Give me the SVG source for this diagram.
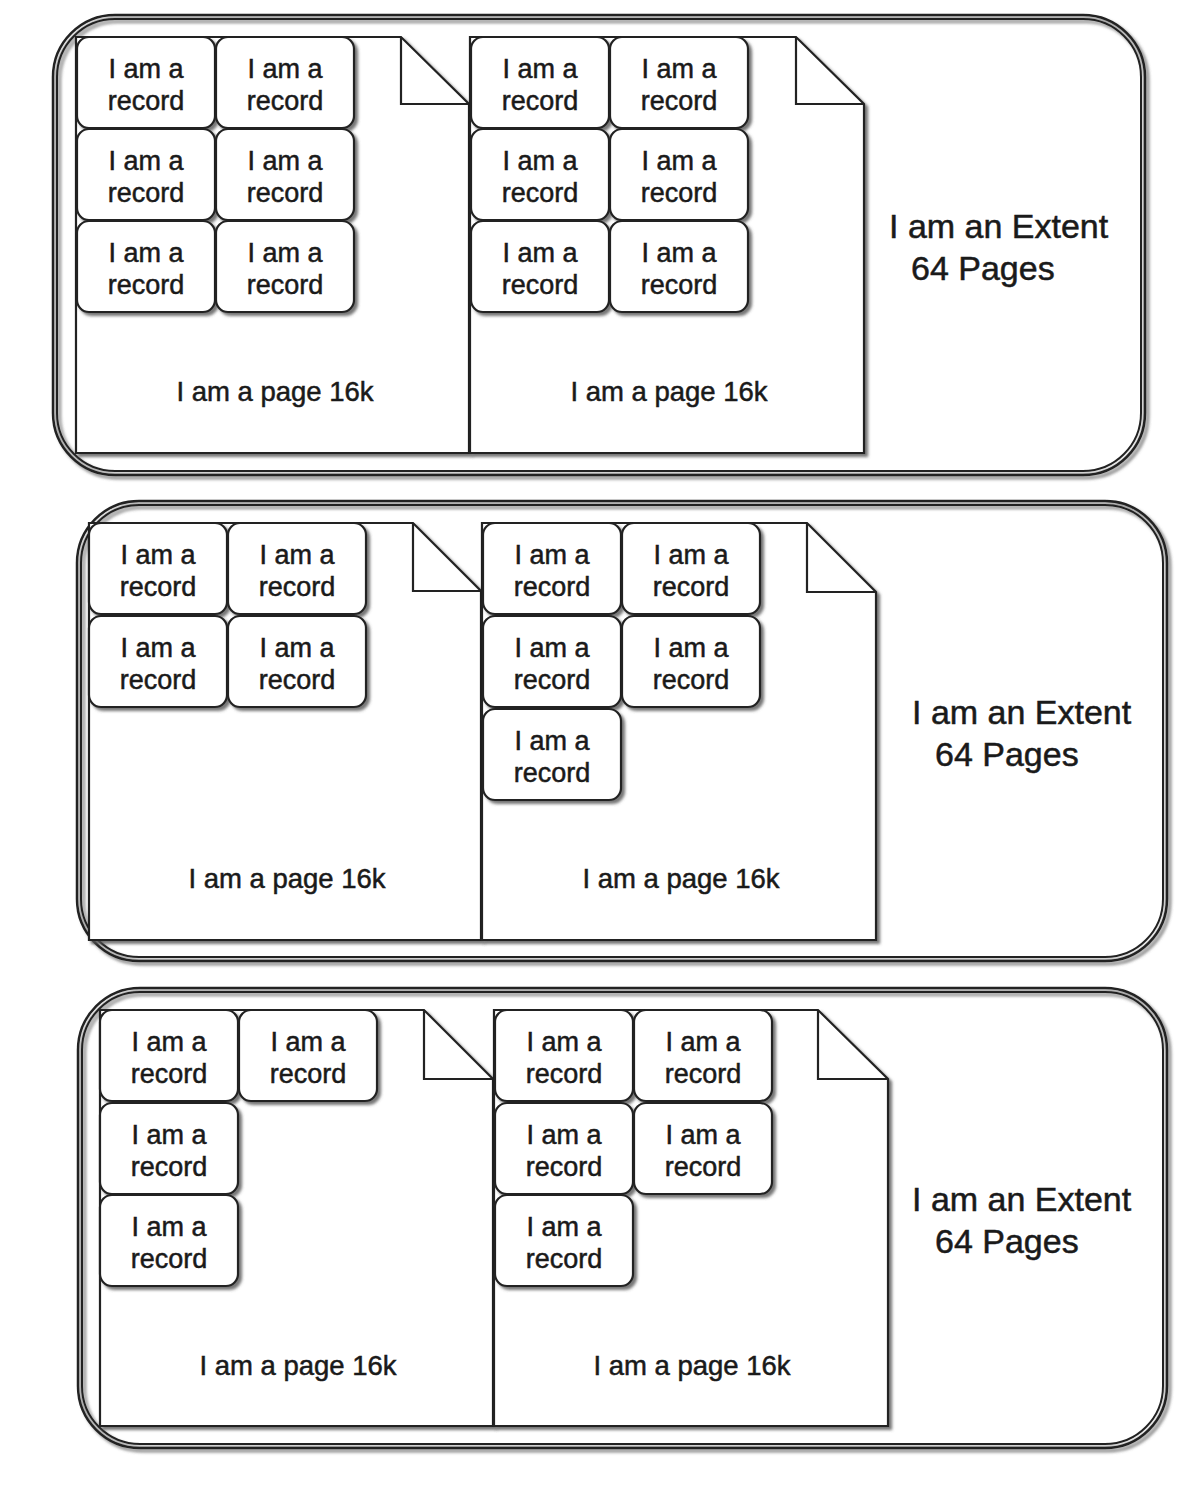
<svg xmlns="http://www.w3.org/2000/svg" width="1192" height="1492" viewBox="0 0 1192 1492">
<defs>
<filter id="sh" x="-5%" y="-5%" width="115%" height="115%">
<feDropShadow dx="3" dy="3" stdDeviation="1.5" flood-color="#555" flood-opacity="0.8"/>
</filter>
<symbol id="rec" overflow="visible">
<rect x="0" y="0" width="138" height="91" rx="12" ry="12" class="r"/>
<text x="69" y="41" class="t">I am a</text>
<text x="69" y="73" class="t">record</text>
</symbol>
</defs>
<style>
.ext1{fill:none;stroke:#222;stroke-width:2.5}
.ext2{fill:none;stroke:#222;stroke-width:2}
.pg{fill:#fff;stroke:#222;stroke-width:2.2;filter:url(#sh)}
.fold{fill:none;stroke:#222;stroke-width:2.2}
.r{fill:#fff;stroke:#222;stroke-width:2.2;filter:url(#sh)}
.t{font-family:"Liberation Sans",Arial,sans-serif;font-size:27px;fill:#1a1a1a;stroke:#1a1a1a;stroke-width:0.5;text-anchor:middle}
.pt{font-family:"Liberation Sans",Arial,sans-serif;font-size:27.5px;fill:#1a1a1a;stroke:#1a1a1a;stroke-width:0.5;text-anchor:middle}
.et{font-family:"Liberation Sans",Arial,sans-serif;font-size:34px;fill:#1a1a1a;stroke:#1a1a1a;stroke-width:0.5}
</style>
<rect width="1192" height="1492" fill="#fff"/>

<!-- Extent 1 -->
<g id="extent1">
<g filter="url(#sh)">
<rect x="53" y="15" width="1092" height="460" rx="62" ry="62" class="ext1"/>
<rect x="57" y="19" width="1084" height="452" rx="58" ry="58" class="ext2"/>
</g>
<text x="889" y="238" class="et">I am an Extent</text>
<text x="911" y="280" class="et">64 Pages</text>
</g>
<g id="e1page1">
<path class="pg" d="M76,37 L401,37 L469,104 L469,453 L76,453 Z"/>
<path class="fold" d="M401,37 L401,104 L469,104"/>
<text x="275" y="401" class="pt">I am a page 16k</text>
</g>
<g id="e1page2">
<path class="pg" d="M470,37 L796,37 L864,104 L864,453 L470,453 Z"/>
<path class="fold" d="M796,37 L796,104 L864,104"/>
<text x="669" y="401" class="pt">I am a page 16k</text>
</g>
<g id="e1p1r1"><use href="#rec" x="77" y="37"/></g>
<g id="e1p1r2"><use href="#rec" x="216" y="37"/></g>
<g id="e1p1r3"><use href="#rec" x="77" y="129"/></g>
<g id="e1p1r4"><use href="#rec" x="216" y="129"/></g>
<g id="e1p1r5"><use href="#rec" x="77" y="221"/></g>
<g id="e1p1r6"><use href="#rec" x="216" y="221"/></g>
<g id="e1p2r1"><use href="#rec" x="471" y="37"/></g>
<g id="e1p2r2"><use href="#rec" x="610" y="37"/></g>
<g id="e1p2r3"><use href="#rec" x="471" y="129"/></g>
<g id="e1p2r4"><use href="#rec" x="610" y="129"/></g>
<g id="e1p2r5"><use href="#rec" x="471" y="221"/></g>
<g id="e1p2r6"><use href="#rec" x="610" y="221"/></g>

<!-- Extent 2 -->
<g id="extent2">
<g filter="url(#sh)">
<rect x="77" y="501" width="1090" height="460" rx="62" ry="62" class="ext1"/>
<rect x="81" y="505" width="1082" height="452" rx="58" ry="58" class="ext2"/>
</g>
<text x="912" y="724" class="et">I am an Extent</text>
<text x="935" y="766" class="et">64 Pages</text>
</g>
<g id="e2page1">
<path class="pg" d="M89,523 L413,523 L481,591 L481,940 L89,940 Z"/>
<path class="fold" d="M413,523 L413,591 L481,591"/>
<text x="287" y="888" class="pt">I am a page 16k</text>
</g>
<g id="e2page2">
<path class="pg" d="M482,523 L807,523 L876,592 L876,940 L482,940 Z"/>
<path class="fold" d="M807,523 L807,592 L876,592"/>
<text x="681" y="888" class="pt">I am a page 16k</text>
</g>
<g id="e2p1r1"><use href="#rec" x="89" y="523"/></g>
<g id="e2p1r2"><use href="#rec" x="228" y="523"/></g>
<g id="e2p1r3"><use href="#rec" x="89" y="616"/></g>
<g id="e2p1r4"><use href="#rec" x="228" y="616"/></g>
<g id="e2p2r1"><use href="#rec" x="483" y="523"/></g>
<g id="e2p2r2"><use href="#rec" x="622" y="523"/></g>
<g id="e2p2r3"><use href="#rec" x="483" y="616"/></g>
<g id="e2p2r4"><use href="#rec" x="622" y="616"/></g>
<g id="e2p2r5"><use href="#rec" x="483" y="709"/></g>

<!-- Extent 3 -->
<g id="extent3">
<g filter="url(#sh)">
<rect x="78" y="988" width="1089" height="460" rx="62" ry="62" class="ext1"/>
<rect x="82" y="992" width="1081" height="452" rx="58" ry="58" class="ext2"/>
</g>
<text x="912" y="1211" class="et">I am an Extent</text>
<text x="935" y="1253" class="et">64 Pages</text>
</g>
<g id="e3page1">
<path class="pg" d="M100,1010 L424,1010 L493,1079 L493,1426 L100,1426 Z"/>
<path class="fold" d="M424,1010 L424,1079 L493,1079"/>
<text x="298" y="1375" class="pt">I am a page 16k</text>
</g>
<g id="e3page2">
<path class="pg" d="M494,1010 L818,1010 L888,1079 L888,1426 L494,1426 Z"/>
<path class="fold" d="M818,1010 L818,1079 L888,1079"/>
<text x="692" y="1375" class="pt">I am a page 16k</text>
</g>
<g id="e3p1r1"><use href="#rec" x="100" y="1010"/></g>
<g id="e3p1r2"><use href="#rec" x="239" y="1010"/></g>
<g id="e3p1r3"><use href="#rec" x="100" y="1103"/></g>
<g id="e3p1r4"><use href="#rec" x="100" y="1195"/></g>
<g id="e3p2r1"><use href="#rec" x="495" y="1010"/></g>
<g id="e3p2r2"><use href="#rec" x="634" y="1010"/></g>
<g id="e3p2r3"><use href="#rec" x="495" y="1103"/></g>
<g id="e3p2r4"><use href="#rec" x="634" y="1103"/></g>
<g id="e3p2r5"><use href="#rec" x="495" y="1195"/></g>

<g id="connectors"></g>
</svg>
